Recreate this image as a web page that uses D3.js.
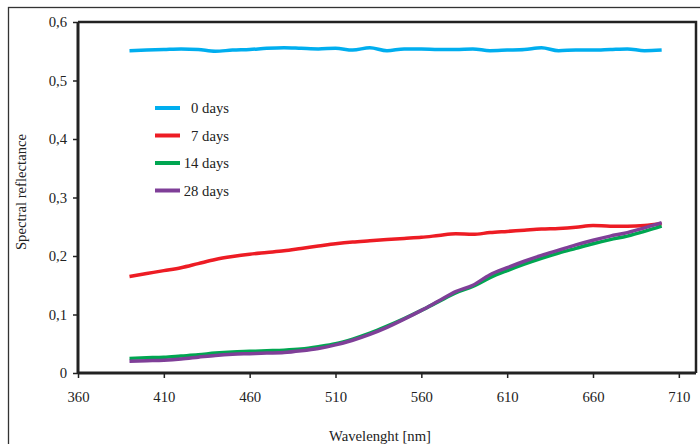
<!DOCTYPE html>
<html>
<head>
<meta charset="utf-8">
<script src="https://cdn.jsdelivr.net/npm/d3@7/dist/d3.min.js"></script>
<style>
  html, body { margin: 0; padding: 0; background: #fff; }
  svg { display: block; font-family: "Liberation Serif", "DejaVu Serif", serif; }
</style>
</head>
<body>
<svg id="chart" width="700" height="444"></svg>
<script>
// Wavelength samples (nm)
const wavelengths = [390,400,410,420,430,440,450,460,470,480,490,500,510,520,530,540,550,560,570,580,590,600,610,620,630,640,650,660,670,680,690,700];

// Spectral reflectance per storage time
const days0  = [0.551,0.552,0.553,0.554,0.553,0.550,0.552,0.553,0.555,0.556,0.555,0.554,0.555,0.552,0.556,0.551,0.554,0.554,0.553,0.553,0.554,0.551,0.552,0.553,0.556,0.551,0.552,0.552,0.553,0.554,0.551,0.552];
const days7  = [0.165,0.170,0.175,0.180,0.187,0.194,0.199,0.203,0.206,0.209,0.213,0.217,0.221,0.224,0.226,0.228,0.230,0.232,0.235,0.238,0.237,0.240,0.242,0.244,0.246,0.247,0.249,0.252,0.251,0.251,0.252,0.255];
const days14 = [0.025,0.026,0.027,0.029,0.031,0.034,0.036,0.037,0.038,0.039,0.041,0.045,0.050,0.058,0.068,0.080,0.093,0.107,0.122,0.137,0.148,0.163,0.175,0.186,0.196,0.205,0.213,0.221,0.228,0.234,0.242,0.251];
const days28 = [0.020,0.021,0.022,0.024,0.027,0.030,0.032,0.033,0.034,0.035,0.038,0.042,0.048,0.056,0.066,0.078,0.092,0.107,0.123,0.139,0.150,0.168,0.180,0.191,0.201,0.210,0.219,0.227,0.234,0.240,0.248,0.257];

const seriesNames  = ["0 days", "7 days", "14 days", "28 days"];
const seriesColors = ["#00aeef", "#ed1c24", "#00a651", "#7f3f98"];
const seriesValues = [days0, days7, days14, days28];

const xTicks = [360,410,460,510,560,610,660,710];
const yTicks = [0,0.1,0.2,0.3,0.4,0.5,0.6];

const svg = d3.select("#chart");
const fontSize = "14.7px";

// Outer frame
svg.append("rect")
  .attr("x", 8.5).attr("y", 7.5)
  .attr("width", 720).attr("height", 460)
  .attr("fill", "none").attr("stroke", "#333").attr("stroke-width", 1.3);

const plotLeft = 78, plotRight = 696, plotTop = 22, plotBottom = 373;

const x = d3.scaleLinear().domain([360, 720]).range([plotLeft, plotRight]);
const y = d3.scaleLinear().domain([0, 0.6]).range([plotBottom, plotTop]);

const fmt = d => d === 0 ? "0" : d3.format(".1f")(d).replace(".", ",");

// Plot box: top and right edges
svg.append("path")
  .attr("d", `M${plotLeft},${plotTop}H${plotRight}V${plotBottom}`)
  .attr("fill", "none").attr("stroke", "#222").attr("stroke-width", 2.5);

// Axes
const xAxis = svg.append("g")
  .attr("transform", `translate(0,${plotBottom})`)
  .call(d3.axisBottom(x).tickValues(xTicks).tickSize(5).tickPadding(14).tickFormat(d3.format("d")));
const yAxis = svg.append("g")
  .attr("transform", `translate(${plotLeft},0)`)
  .call(d3.axisLeft(y).tickValues(yTicks).tickSize(5).tickPadding(6).tickFormat(fmt));

[xAxis, yAxis].forEach(g => {
  g.select(".domain").attr("stroke", "#222").attr("stroke-width", 3);
  g.selectAll(".tick line").attr("stroke", "#222").attr("stroke-width", 1.5);
  g.selectAll(".tick text")
    .attr("fill", "#222")
    .style("font-size", fontSize)
    .style("font-family", "'Liberation Serif', 'DejaVu Serif', serif");
});
xAxis.select(".domain").attr("d", `M${plotLeft},0H${plotRight}`);
yAxis.select(".domain").attr("d", `M0,${plotBottom}V${plotTop}`);

// Axis titles
svg.append("text")
  .attr("x", 380).attr("y", 441)
  .attr("text-anchor", "middle")
  .attr("fill", "#222")
  .style("font-size", fontSize)
  .text("Wavelenght [nm]");

svg.append("text")
  .attr("transform", `translate(26,192) rotate(-90)`)
  .attr("text-anchor", "middle")
  .attr("fill", "#222")
  .style("font-size", fontSize)
  .text("Spectral reflectance");

// Curves
const line = d3.line()
  .x((d, i) => x(wavelengths[i]))
  .y(d => y(d))
  .curve(d3.curveMonotoneX);

svg.append("g").selectAll("path")
  .data(seriesValues)
  .join("path")
  .attr("d", line)
  .attr("fill", "none")
  .attr("stroke", (d, i) => seriesColors[i])
  .attr("stroke-width", 3.5)
  .attr("stroke-linejoin", "round");

// Legend
const legend = svg.append("g");
seriesNames.forEach((name, i) => {
  const ly = 108 + i * 27.5;
  legend.append("line")
    .attr("x1", 155).attr("x2", 180)
    .attr("y1", ly).attr("y2", ly)
    .attr("stroke", seriesColors[i]).attr("stroke-width", 4);
  legend.append("text")
    .attr("x", 229).attr("y", ly + 5)
    .attr("text-anchor", "end")
    .attr("fill", "#222")
    .style("font-size", fontSize)
    .text(name);
});
</script>
</body>
</html>
